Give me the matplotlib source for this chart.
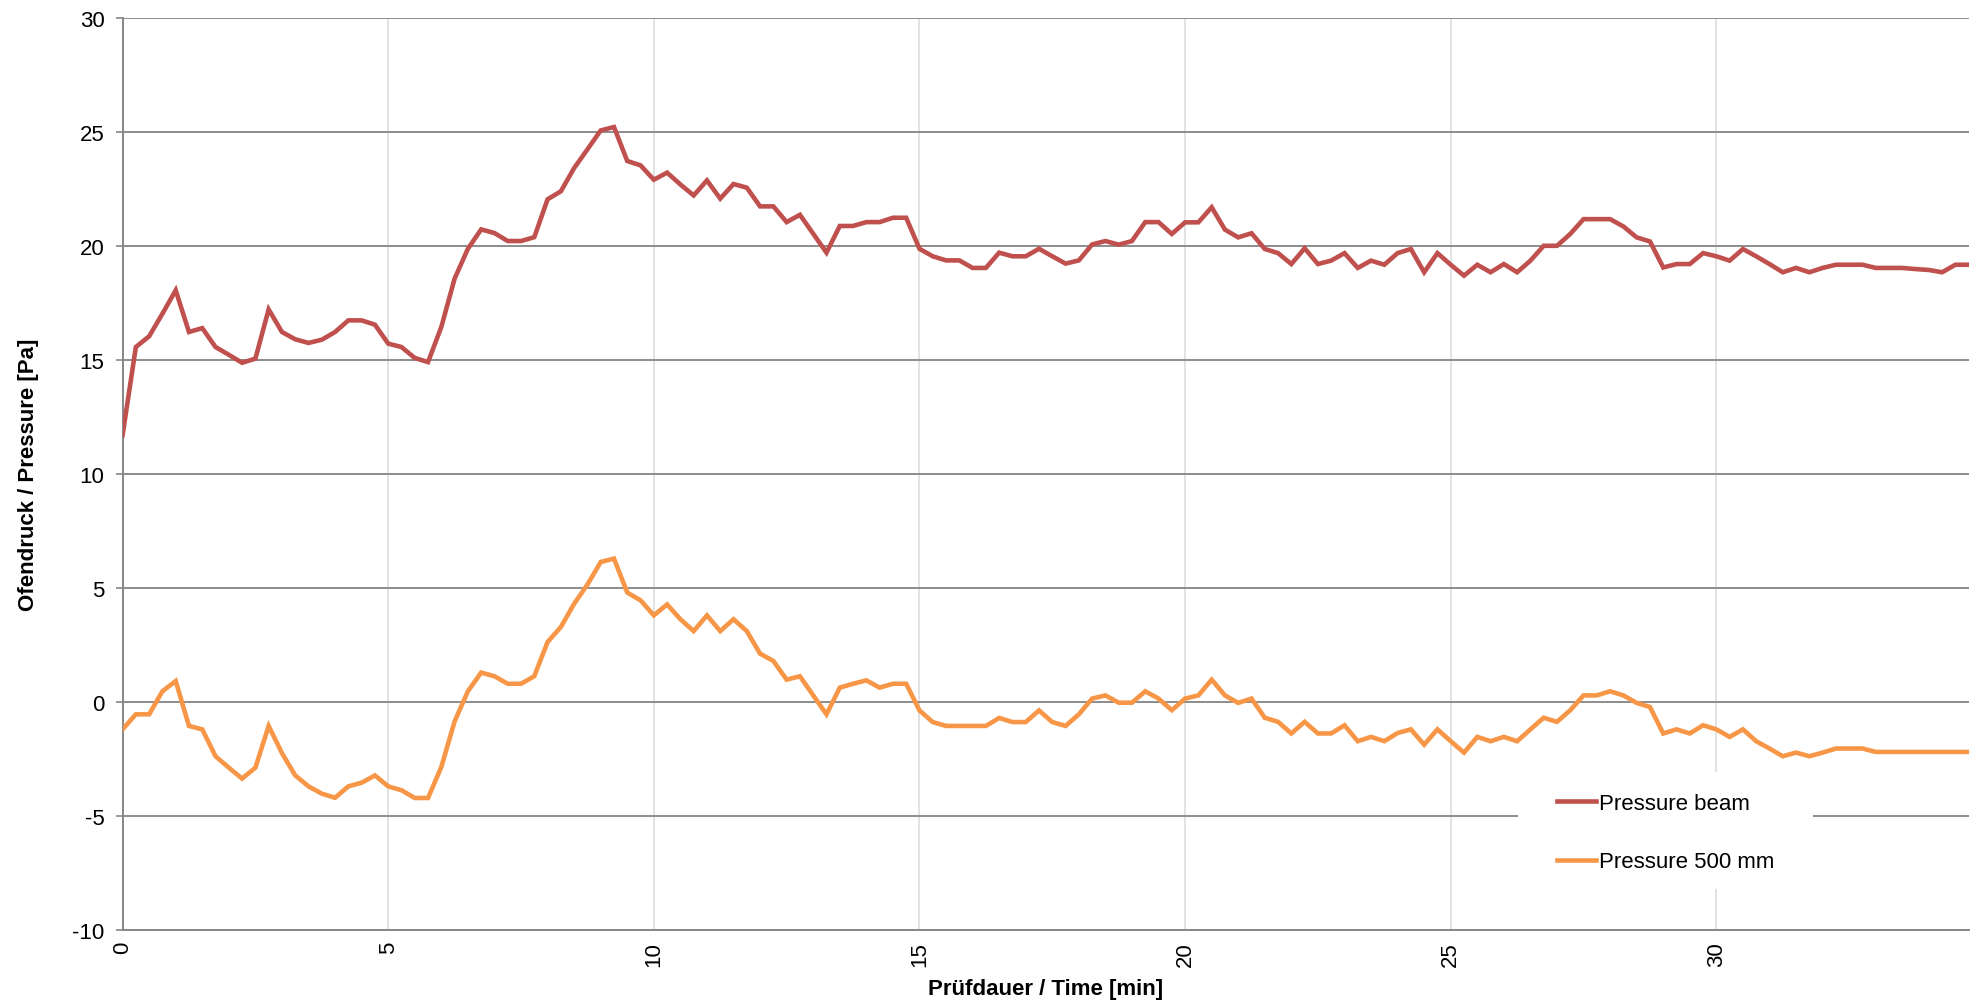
import numpy as np
import matplotlib
matplotlib.use("Agg")
import matplotlib.pyplot as plt
from matplotlib.patches import Rectangle

plt.rcParams['font.family'] = ['Liberation Sans', 'DejaVu Sans']
plt.rcParams['axes.unicode_minus'] = False

# --- Messwerte, alle 15 s --- #
time_min = np.arange(0, 34.76, 0.25)

pressure_beam = [
    11.7, 15.57, 16.04, 17.03, 18.06, 16.23, 16.40, 15.57, 15.23, 14.88,
    15.06, 17.22, 16.23, 15.91, 15.75, 15.89, 16.23, 16.74, 16.74, 16.55,
    15.72, 15.57, 15.09, 14.91, 16.45, 18.57, 19.88, 20.73, 20.57, 20.22,
    20.22, 20.39, 22.05, 22.40, 23.42, 24.24, 25.07, 25.22, 23.73, 23.54,
    22.91, 23.22, 22.70, 22.22, 22.88, 22.08, 22.72, 22.56, 21.74, 21.74,
    21.05, 21.37, 20.54, 19.71, 20.88, 20.88, 21.05, 21.05, 21.24, 21.24,
    19.88, 19.55, 19.37, 19.37, 19.04, 19.04, 19.71, 19.55, 19.55, 19.88,
    19.55, 19.23, 19.37, 20.07, 20.22, 20.06, 20.22, 21.05, 21.05, 20.53,
    21.04, 21.04, 21.70, 20.72, 20.38, 20.56, 19.87, 19.69, 19.21, 19.90,
    19.21, 19.36, 19.69, 19.04, 19.36, 19.18, 19.69, 19.87, 18.85, 19.69,
    19.18, 18.70, 19.18, 18.85, 19.21, 18.85, 19.36, 20.01, 20.01, 20.53,
    21.18, 21.18, 21.18, 20.86, 20.38, 20.20, 19.06, 19.21, 19.21, 19.69,
    19.55, 19.36, 19.87, 19.55, 19.21, 18.85, 19.04, 18.85, 19.04, 19.18,
    19.18, 19.18, 19.04, 19.04, 19.04, 18.99, 18.95, 18.85, 19.18, 19.18,
]

pressure_500 = [
    -1.20, -0.54, -0.54, 0.47, 0.92, -1.05, -1.20, -2.38, -2.88, -3.36,
    -2.88, -1.05, -2.24, -3.22, -3.70, -4.02, -4.20, -3.70, -3.54, -3.22,
    -3.70, -3.87, -4.21, -4.21, -2.85, -0.85, 0.47, 1.29, 1.13, 0.80,
    0.80, 1.13, 2.63, 3.29, 4.31, 5.15, 6.14, 6.29, 4.80, 4.46,
    3.80, 4.28, 3.63, 3.11, 3.80, 3.11, 3.63, 3.11, 2.12, 1.80,
    0.98, 1.13, 0.29, -0.54, 0.63, 0.80, 0.95, 0.63, 0.80, 0.80,
    -0.37, -0.88, -1.05, -1.05, -1.05, -1.05, -0.70, -0.88, -0.88, -0.37,
    -0.88, -1.05, -0.54, 0.15, 0.29, -0.03, -0.03, 0.47, 0.15, -0.36,
    0.15, 0.29, 0.98, 0.29, -0.04, 0.15, -0.69, -0.87, -1.38, -0.87,
    -1.38, -1.38, -1.02, -1.72, -1.53, -1.72, -1.36, -1.20, -1.87, -1.20,
    -1.72, -2.22, -1.53, -1.72, -1.53, -1.72, -1.20, -0.69, -0.87, -0.36,
    0.29, 0.29, 0.47, 0.29, -0.04, -0.22, -1.38, -1.20, -1.38, -1.02,
    -1.20, -1.53, -1.20, -1.72, -2.04, -2.38, -2.22, -2.38, -2.22, -2.04,
    -2.04, -2.04, -2.19, -2.19, -2.19, -2.19, -2.19, -2.19, -2.19, -2.19,
]

x_ticks = [0, 5, 10, 15, 20, 25, 30]
y_ticks = [-10, -5, 0, 5, 10, 15, 20, 25, 30]

# --- Plot --- #
W, H = 1980, 1003
fig = plt.figure(figsize=(W / 100, H / 100), dpi=100)
ax = fig.add_axes([0.0619, 0.0718, 0.9324, 0.9092])

ax.plot(time_min, pressure_beam, color='#C0504D', lw=3.3, label='Pressure beam',
        solid_joinstyle='miter', zorder=3)
ax.plot(time_min, pressure_500, color='#F79646', lw=3.3, label='Pressure 500 mm',
        solid_joinstyle='miter', zorder=3)

ax.set_xlim(0, 34.75)
ax.set_ylim(-10, 30)
ax.set_xticks(x_ticks)
ax.set_yticks(y_ticks)
ax.set_xticklabels([str(t) for t in x_ticks], rotation=90, fontsize=16)
ax.set_yticklabels([str(t) for t in y_ticks], fontsize=16)
ax.tick_params(axis='x', length=0, pad=8)
ax.tick_params(axis='y', length=5, width=1.2, color='#868686', pad=8)

# horizontal grid darker, vertical grid light
for y in y_ticks[1:]:
    ax.axhline(y, color='#8C8C8C', lw=1.4, zorder=1)
for x in x_ticks[1:]:
    ax.axvline(x, color='#DDDDDD', lw=1.2, zorder=0)

for side in ['top', 'right']:
    ax.spines[side].set_visible(False)
for side in ['left', 'bottom']:
    ax.spines[side].set_color('#868686')
    ax.spines[side].set_linewidth(1.4)

ax.set_xlabel('Prüfdauer / Time [min]', fontsize=16, fontweight='bold', labelpad=9)
ax.set_ylabel('Ofendruck / Pressure [Pa]', fontsize=16, fontweight='bold', labelpad=24)

# white legend background hiding the grid
bg = Rectangle((1518 / W, 1 - 890 / H), (1813 - 1518) / W, (890 - 773) / H,
               transform=fig.transFigure, facecolor='white', edgecolor='none',
               zorder=4, clip_on=False)
ax.add_patch(bg)

leg = ax.legend(loc='upper left', bbox_to_anchor=(1557 / W, 1 - 794 / H),
                bbox_transform=fig.transFigure, fontsize=16, frameon=False,
                handlelength=1.75, handletextpad=0.15, labelspacing=1.68,
                borderpad=0, borderaxespad=0)
leg.set_zorder(5)

fig.savefig('out.png', dpi=100, facecolor='white')
